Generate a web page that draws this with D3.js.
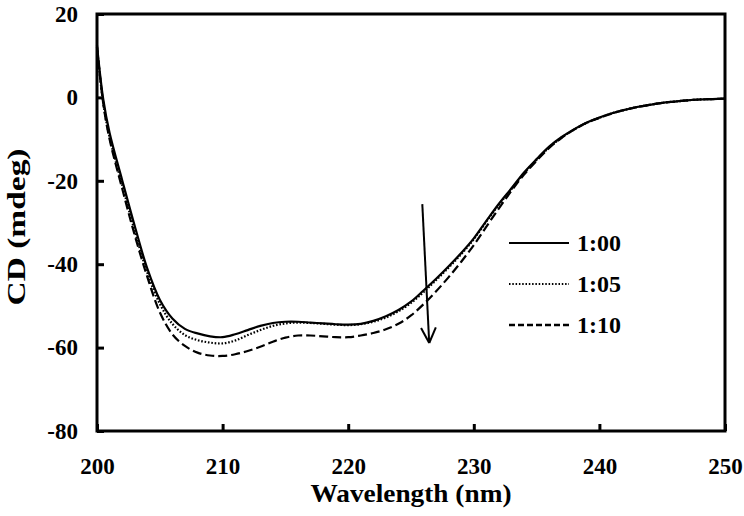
<!DOCTYPE html>
<html><head><meta charset="utf-8">
<script src="https://cdn.jsdelivr.net/npm/d3@7"></script>
<style>body{margin:0;background:#fff}svg{display:block}
svg text{font-family:"Liberation Serif","Times New Roman",Times,serif;font-weight:bold}</style>
</head><body>
<svg id="c" width="744" height="516"></svg>
<script>
const wavelength = [200,200.5,201,202,203,204,205,206,207,208,209,210,211,212,213,214,215,216,217,218,219,220,221,222,223,224,225,226,227,228,229,230,231,232,233,234,235,236,237,238,239,240,241,242,243,244,245,246,247,248,249,250];
const cd100 = [12.5,-0.5,-8.5,-19.8,-30.8,-41,-48.5,-53,-55.5,-56.6,-57.3,-57.5,-56.8,-55.8,-54.8,-54.1,-53.8,-53.8,-54.0,-54.2,-54.4,-54.5,-54.3,-53.6,-52.5,-51.0,-49.0,-46.3,-43.5,-40.5,-37.3,-33.8,-29.6,-25.5,-21.8,-18.0,-14.8,-11.8,-9.5,-7.6,-6.0,-4.8,-3.8,-3.0,-2.3,-1.8,-1.3,-1.0,-0.7,-0.5,-0.4,-0.3];
const cd105 = [12,-1.5,-9.5,-21,-32,-42,-49.5,-54.3,-57,-58.2,-58.8,-59,-58.3,-57,-55.8,-54.8,-54.2,-54.0,-54.1,-54.3,-54.5,-54.6,-54.4,-53.8,-52.8,-51.3,-49.3,-46.7,-43.8,-40.8,-37.6,-34,-29.8,-25.7,-22,-18.2,-15,-12,-9.6,-7.7,-6.1,-4.9,-3.8,-3.0,-2.3,-1.8,-1.3,-1.0,-0.7,-0.5,-0.4,-0.3];
const cd110 = [12,-1.5,-10,-21.8,-33,-43,-51.5,-56.8,-59.6,-61.2,-61.9,-62,-61.6,-60.8,-59.8,-58.6,-57.6,-57.1,-57.1,-57.3,-57.5,-57.5,-57.1,-56.5,-55.6,-54.3,-52.3,-49.6,-46.5,-43.1,-39.4,-35.4,-31.0,-26.6,-22.4,-18.5,-15.2,-12.1,-9.7,-7.7,-6.1,-4.9,-3.9,-3.0,-2.3,-1.8,-1.3,-1.0,-0.7,-0.5,-0.4,-0.3];
const seriesNames = ["1:00","1:05","1:10"];
const xTicks = [200,210,220,230,240,250];
const yTicks = [20,0,-20,-40,-60,-80];
const arrowNm = [225.9, 226.45];
const arrowCd = [-25.6, -58.9];

const svg = d3.select("#c");
const L = 97, R = 725, T = 14, B = 431;
const x = d3.scaleLinear().domain([200,250]).range([L,R]);
const y = d3.scaleLinear().domain([-80,20]).range([B,T]);
const font = '"Liberation Serif","Times New Roman",Times,serif';

svg.append("rect").attr("width",744).attr("height",516).attr("fill","#fff");

// axes
const yAx = svg.append("g").attr("transform",`translate(${L},0)`)
  .call(d3.axisLeft(y).tickValues(yTicks).tickSizeInner(-7).tickSizeOuter(0).tickPadding(19));
const xAx = svg.append("g").attr("transform",`translate(0,${B})`)
  .call(d3.axisBottom(x).tickValues(xTicks).tickSizeInner(-7).tickSizeOuter(0).tickPadding(27));
[yAx,xAx].forEach(g=>{
  g.attr("font-family",font).attr("font-size",23).attr("font-weight","bold");
  g.select(".domain").remove();
  g.selectAll(".tick line").attr("stroke","#000").attr("stroke-width",3);
  g.selectAll(".tick text").attr("fill","#000");
});
yAx.selectAll(".tick text").text(d=>String(d));

// frame
svg.append("rect").attr("x",L).attr("y",T).attr("width",R-L).attr("height",B-T)
  .attr("fill","none").attr("stroke","#000").attr("stroke-width",3);

// lines
const styles = [
  {dash:null, w:2.2, legDash:null, legW:2.2},
  {dash:"1.6,1.8", w:2.2, legDash:"1.5,1.8", legW:1.8},
  {dash:"9,4", w:2.2, legDash:"6,3", legW:2.4}
];
const allSeries = [cd100, cd105, cd110];
const line = d3.line().curve(d3.curveCatmullRom.alpha(0.5)).x(d=>x(d[0])).y(d=>y(d[1]));
allSeries.forEach((s,i)=>{
  const pts = wavelength.map((w,j)=>[w,s[j]]);
  svg.append("path").datum(pts).attr("d",line).attr("fill","none")
    .attr("stroke","#000").attr("stroke-width",styles[i].w)
    .attr("stroke-dasharray",styles[i].dash);
});

// arrow
const ax1 = x(arrowNm[0]), ay1 = y(arrowCd[0]), ax2 = x(arrowNm[1]), ay2 = y(arrowCd[1]);
svg.append("line").attr("x1",ax1).attr("y1",ay1).attr("x2",ax2).attr("y2",ay2)
  .attr("stroke","#000").attr("stroke-width",2);
const ang = Math.atan2(ay2-ay1, ax2-ax1);
const hl = 17, ha = 0.45;
[ang+Math.PI-ha, ang+Math.PI+ha].forEach(a=>{
  svg.append("line").attr("x1",ax2).attr("y1",ay2)
    .attr("x2",ax2+hl*Math.cos(a)).attr("y2",ay2+hl*Math.sin(a))
    .attr("stroke","#000").attr("stroke-width",2);
});

// legend
const legY = [243,284,325];
seriesNames.forEach((n,i)=>{
  svg.append("line").attr("x1",509).attr("x2",569).attr("y1",legY[i]).attr("y2",legY[i])
    .attr("stroke","#000").attr("stroke-width",styles[i].legW).attr("stroke-dasharray",styles[i].legDash);
  svg.append("text").attr("x",577).attr("y",legY[i]).attr("dy","0.35em").text(n)
    .attr("font-size",24);
});

// axis titles
svg.append("text").attr("x",(L+R)/2).attr("y",502).attr("text-anchor","middle")
  .attr("textLength",201).attr("lengthAdjust","spacingAndGlyphs")
  .attr("font-size",25)
  .text("Wavelength (nm)");
svg.append("text").attr("transform","translate(25,227) rotate(-90)").attr("text-anchor","middle")
  .attr("textLength",157).attr("lengthAdjust","spacingAndGlyphs")
  .attr("font-size",26)
  .text("CD (mdeg)");
</script>
</body></html>
